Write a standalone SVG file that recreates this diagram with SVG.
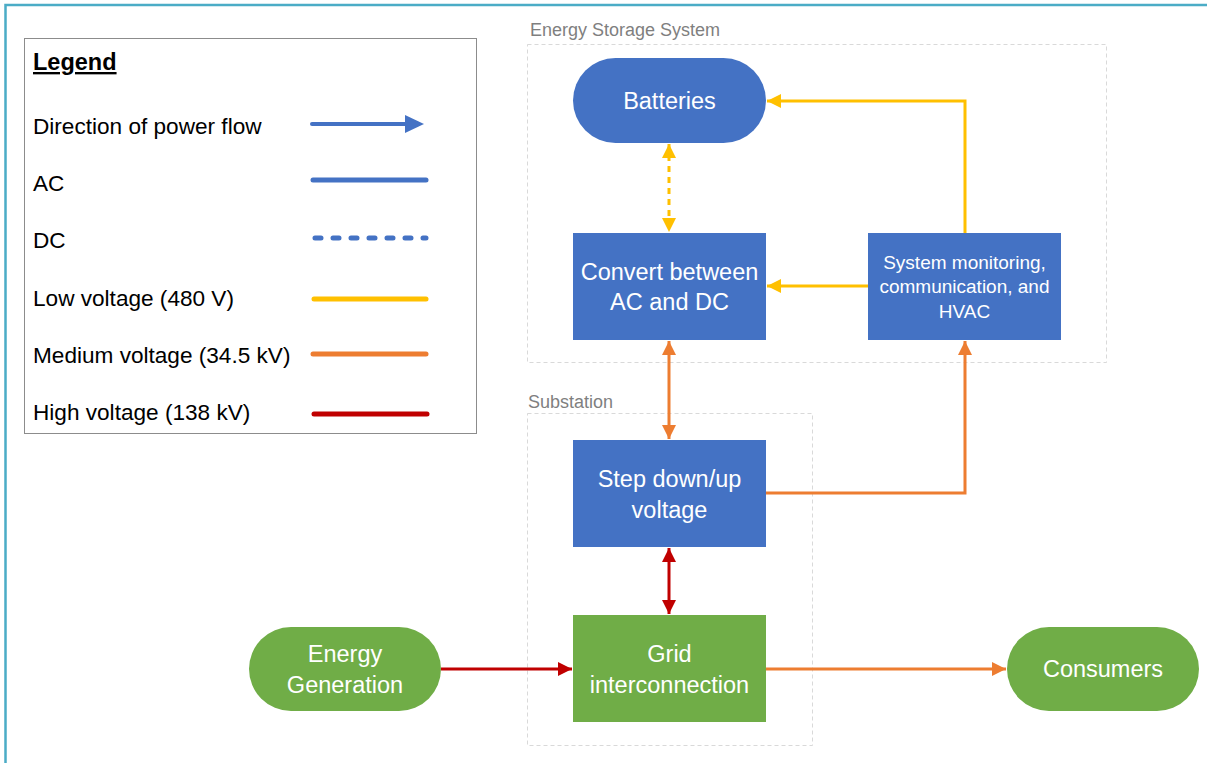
<svg xmlns="http://www.w3.org/2000/svg" width="1207" height="763" viewBox="0 0 1207 763">
<defs>
<style>
.t{font-family:"Liberation Sans",Arial,sans-serif;fill:#000;font-size:22.6px}
.w{font-family:"Liberation Sans",Arial,sans-serif;fill:#fff;font-size:23.5px;text-anchor:middle}
.ws{font-family:"Liberation Sans",Arial,sans-serif;fill:#fff;font-size:19px;text-anchor:middle}
.g{font-family:"Liberation Sans",Arial,sans-serif;fill:#7f7f7f;font-size:18px}
.blue{fill:#4472c4}
.green{fill:#70ad47}
.grp{fill:none;stroke:#d9d9d9;stroke-width:1;stroke-dasharray:4 3}
.c{fill:none;stroke-width:3}
.y{stroke:#ffc000}
.o{stroke:#ed7d31}
.r{stroke:#c00000}
.leg{fill:none;stroke-width:5;stroke-linecap:round}
</style>
<marker id="ay" viewBox="0 0 14 14" refX="14" refY="7" markerWidth="14" markerHeight="14" markerUnits="userSpaceOnUse" orient="auto-start-reverse"><path d="M0,0 L14,7 L0,14 Z" fill="#ffc000"/></marker>
<marker id="ao" viewBox="0 0 14 14" refX="14" refY="7" markerWidth="14" markerHeight="14" markerUnits="userSpaceOnUse" orient="auto-start-reverse"><path d="M0,0 L14,7 L0,14 Z" fill="#ed7d31"/></marker>
<marker id="ar" viewBox="0 0 14 14" refX="14" refY="7" markerWidth="14" markerHeight="14" markerUnits="userSpaceOnUse" orient="auto-start-reverse"><path d="M0,0 L14,7 L0,14 Z" fill="#c00000"/></marker>
</defs>
<rect width="1207" height="763" fill="#fff"/>
<path d="M5.5,763 V5 H1207" fill="none" stroke="#4bacc6" stroke-width="2.5"/>

<g id="legend">
<rect x="24.5" y="38.5" width="452" height="395" fill="#fff" stroke="#8c8c8c" stroke-width="1"/>
<text x="33" y="70" class="t" style="font-weight:bold;font-size:23.5px;text-decoration:underline">Legend</text>
<text x="33" y="134" class="t">Direction of power flow</text>
<text x="33" y="191" class="t">AC</text>
<text x="33" y="248" class="t">DC</text>
<text x="33" y="306" class="t">Low voltage (480 V)</text>
<text x="33" y="363" class="t">Medium voltage (34.5 kV)</text>
<text x="33" y="420" class="t">High voltage (138 kV)</text>
<line x1="312" y1="124" x2="406" y2="124" stroke="#4472c4" stroke-width="4" stroke-linecap="round"/>
<path d="M405,115 L424,124 L405,133 Z" fill="#4472c4"/>
<line x1="313" y1="180" x2="426" y2="180" class="leg" stroke="#4472c4"/>
<line x1="315" y1="238" x2="426" y2="238" class="leg" stroke="#4472c4" stroke-dasharray="6 12"/>
<line x1="314" y1="299" x2="426" y2="299" class="leg" stroke="#ffc000"/>
<line x1="313" y1="354" x2="426" y2="354" class="leg" stroke="#ed7d31"/>
<line x1="314" y1="414" x2="427" y2="414" class="leg" stroke="#c00000"/>
</g>

<g id="group-ess">
<rect x="527.5" y="44.5" width="579" height="318" class="grp"/>
<text x="530" y="36" class="g">Energy Storage System</text>
</g>
<g id="group-substation">
<rect x="527.5" y="413.5" width="285" height="332" class="grp"/>
<text x="528" y="408" class="g">Substation</text>
</g>

<g id="connectors">
<line x1="669" y1="144" x2="669" y2="232" class="c y" stroke-dasharray="6 5" marker-start="url(#ay)" marker-end="url(#ay)"/>
<polyline points="965,233 965,101 767,101" class="c y" marker-end="url(#ay)"/>
<line x1="868" y1="286" x2="767" y2="286" class="c y" marker-end="url(#ay)"/>
<line x1="669" y1="341" x2="669" y2="439" class="c o" marker-start="url(#ao)" marker-end="url(#ao)"/>
<polyline points="766,493 965,493 965,341" class="c o" marker-end="url(#ao)"/>
<line x1="669" y1="548" x2="669" y2="614" class="c r" marker-start="url(#ar)" marker-end="url(#ar)"/>
<line x1="441" y1="669" x2="572" y2="669" class="c r" marker-end="url(#ar)"/>
<line x1="766" y1="669" x2="1006" y2="669" class="c o" marker-end="url(#ao)"/>
</g>

<g id="batteries">
<rect x="573" y="58" width="193" height="85" rx="42.5" class="blue"/>
<text x="669.5" y="109" class="w">Batteries</text>
</g>
<g id="converter">
<rect x="573" y="233" width="193" height="107" class="blue"/>
<text x="669.5" y="280" class="w">Convert between</text>
<text x="669.5" y="310" class="w">AC and DC</text>
</g>
<g id="monitoring">
<rect x="868" y="233" width="193" height="107" class="blue"/>
<text x="964.5" y="269" class="ws">System monitoring,</text>
<text x="964.5" y="293" class="ws">communication, and</text>
<text x="964.5" y="318" class="ws">HVAC</text>
</g>
<g id="stepdown">
<rect x="573" y="440" width="193" height="107" class="blue"/>
<text x="669.5" y="487" class="w">Step down/up</text>
<text x="669.5" y="518" class="w">voltage</text>
</g>
<g id="grid">
<rect x="573" y="615" width="193" height="107" class="green"/>
<text x="669.5" y="662" class="w">Grid</text>
<text x="669.5" y="693" class="w">interconnection</text>
</g>
<g id="generation">
<rect x="249" y="627" width="192" height="84" rx="42" class="green"/>
<text x="345" y="662" class="w">Energy</text>
<text x="345" y="693" class="w">Generation</text>
</g>
<g id="consumers">
<rect x="1007" y="627" width="192" height="84" rx="42" class="green"/>
<text x="1103" y="677" class="w">Consumers</text>
</g>
</svg>
